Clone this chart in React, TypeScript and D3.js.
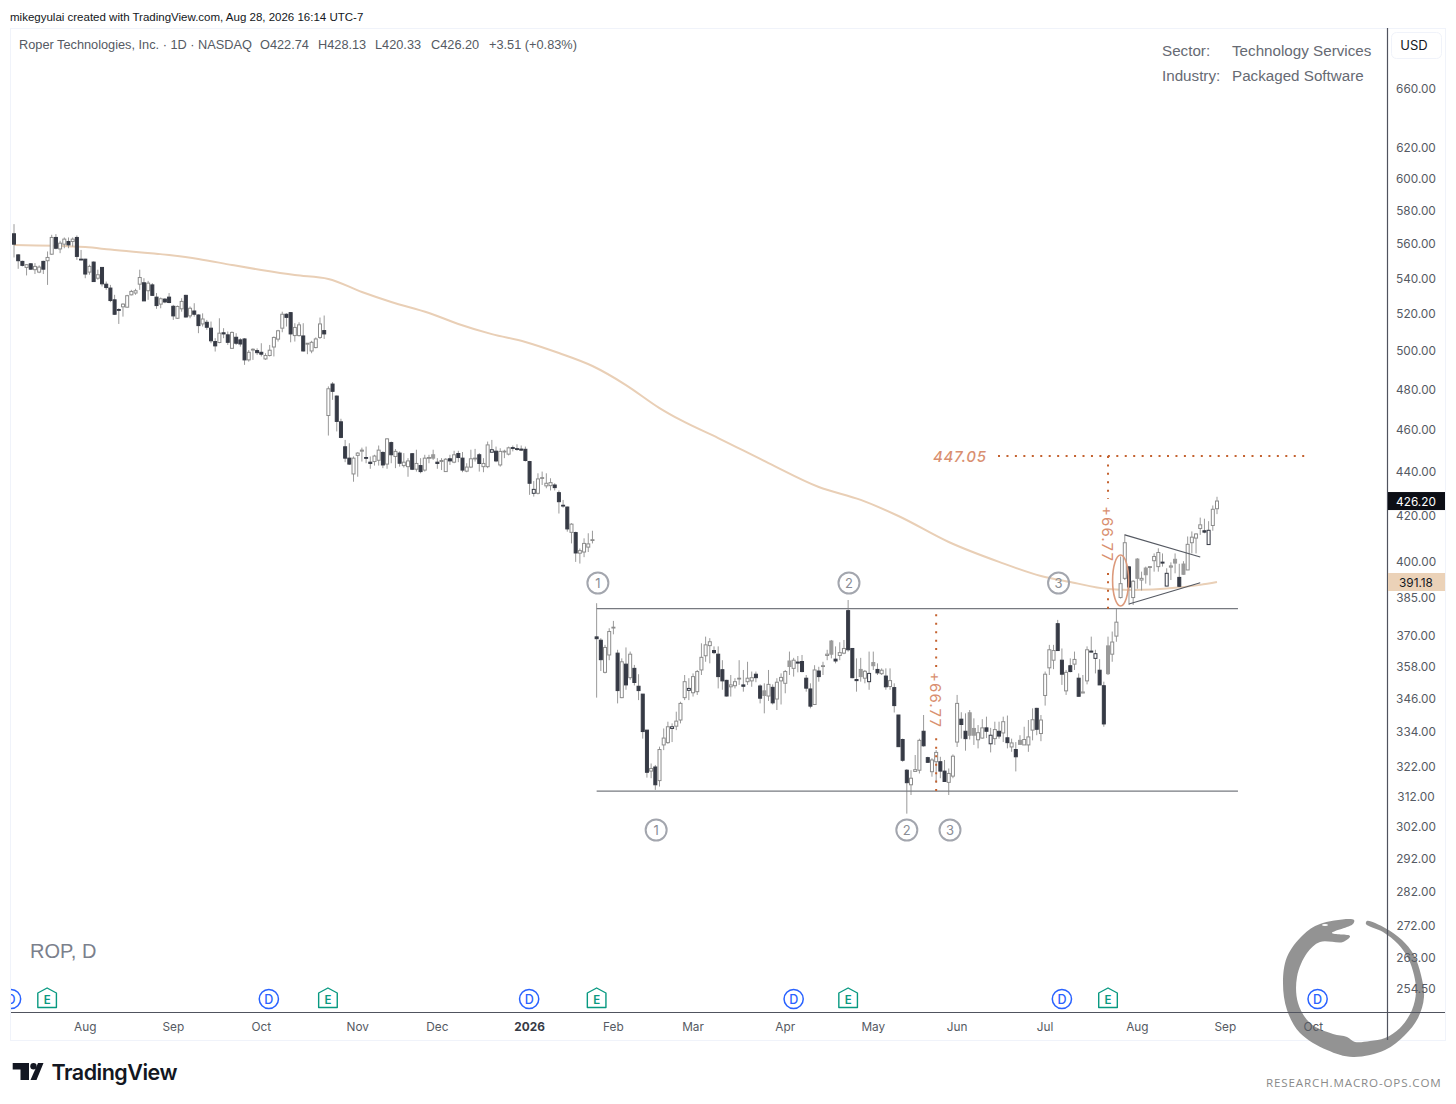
import * as d3 from "d3";

const highs = [
  571.4,553.5,549.7,547.7,548.3,548.3,547,549.7,555.1,565,
  565.4,561.4,563.4,563.4,563.4,564.6,556,550.8,547.4,549.3,
  544.5,546,537.7,535.8,530.2,522.7,525.5,530.2,533,533.6,
  544.5,539.6,538.1,536.8,531.2,528.7,528.3,531.2,524.6,524.2,
  528.3,530.2,523.7,525.5,519.4,519.9,516.3,515.4,506.4,517.2,
  511.8,510,510,509.1,506.4,506.4,500.1,501,501,503.7,
  498.4,502.8,507.3,510.9,520.8,519.9,520.5,514.5,515,514.5,
  503.7,505,506.8,517.6,518.7,
  481.2,483.4,476.6,465,454.7,453.1,446.8,448.8,451,451.5,
  446.8,447.6,452,449.2,455.5,453.9,450.3,449.2,448.4,446,
  448.4,450,446,447.6,447.6,450,446,446,446,447.6,
  449.5,449.5,448.9,443.6,450,450.4,448.4,446,453.9,454.7,
  451.5,450.7,450,451.5,452,452.6,452,451.5,444.7,435.3,
  438.9,439.7,438.9,436.6,434.3,431,426.7,423.7,416.3,412.6,
  405.3,409.7,411.9,413,
  382.5,368.6,366,372.5,375.4,364.1,360.8,365,363.4,358.3,
  354.8,347.4,334.4,322.8,322.3,328.6,335,337.4,336.8,341,
  344.6,354.5,353.3,355.1,356.4,366.6,369.2,368.6,365.4,365.4,
  360.1,352.7,354.5,353.3,360.1,356.4,359.5,355.8,355.8,351,
  351.4,356.4,351,353.3,355.1,356.4,363.4,361,361.7,362.1,
  354.5,351.4,358.2,357.6,359.5,364.1,367.9,365.4,367,367.9,
  383.8,364.6,360.8,361,356.4,363.4,363.4,358.9,357,357,
  357,351.4,339.8,331.4,320.9,320.5,325.7,331.4,339.8,325.1,
  324.6,327.4,325.1,324,321.1,325.9,347.1,340.8,340.4,341.6,
  338.6,336.2,338.3,339.2,335.2,337.4,337.4,339.2,339.6,331.4,
  330.2,332.6,335.6,338,342.2,342.4,339.8,355.8,366,366,
  375.8,364.6,356.4,360.8,363.4,355.1,354.5,365.4,369.2,364.1,
  360.5,352,369.2,371.2,380.4,401.9,411.5,397.9,392,401.2,
  395.5,397.6,397.6,403.2,405.4,403.2,396.9,399.4,403.2,398.8,
  399.9,410.5,412.7,411.9,418.8,418.3,417.2,424.2,428.13,
];

const lows = [
  551.6,545,546.4,541.2,544.5,542,542.5,542,535.8,553.1,
  556.4,554.1,557,557,558,550.2,549.9,539.6,541.6,537.7,
  538.7,534.9,533,526.1,519,514.1,518.1,523.1,529.9,530.2,
  533,526.8,527.4,529.7,522.4,522.7,525.5,525.5,516.3,516.8,
  520.8,517.6,517.2,518.1,509.1,512.7,510.9,503.7,499.3,503.7,
  506.4,502.8,500.7,502.8,501.9,492.3,494,494.9,497.5,496.7,
  494.9,496.7,496.7,504.6,509.6,512.7,504.2,504.6,507.3,499.3,
  497.9,498.4,501,506,506,
  456.8,474.4,458.8,455.5,444.1,442.8,435,437.3,444.4,443.6,
  441,442.5,442.5,441.3,441,443.6,441.3,442,441.6,437.3,
  440.4,439.7,438.9,439.7,443.6,445.2,441,440.4,439.7,442.8,
  443.6,444.1,439.4,439.4,441.3,444.4,439.7,439.4,441.3,448.8,
  444.1,442,446,447.3,449.2,449.5,449.5,444.4,429,428.2,
  429.2,433.5,432,431,431,420.6,423.2,412.6,407.5,399.6,
  398.9,401.6,403.8,407.5,
  346.1,356,355.1,360.1,370.1,344,345.9,349,352.7,350.6,
  345.2,331.4,318,317.8,313.9,315,327.4,329.6,330.2,334.4,
  336.8,345.2,345.2,346.5,347.1,354.5,359.5,358.9,362.4,349.5,
  349,346.5,346.5,349.5,350.8,348.3,350.8,350.1,351.8,344,
  340.4,344.9,343.6,341.6,343.6,347.7,354.5,353.9,355.5,355.5,
  348.3,342.2,343.4,352,354.5,360.1,360.8,358.9,360.1,362.4,
  363.4,353.3,348.3,352,351.4,349,356.4,354.5,354.5,349,
  349,340.7,328.6,323.4,306.1,312.2,320,319.4,328.6,323,
  318.3,316.2,317.8,316.7,312.2,317.8,328.5,331.4,327.2,331.1,
  329.2,328,331.4,331.6,326.6,329.2,331.4,330.2,328,326.8,
  320.1,329.2,329.2,326.8,330.8,332.6,330.5,343.2,354.5,356.7,
  363.7,350.8,347.1,355.5,356.4,346.5,347.7,351,363.2,355.1,
  350.8,335.6,354.5,359.5,367.2,384.4,392,381.8,381.8,388.4,
  387.7,390.5,389.8,395.5,395.5,397.6,389.4,392,394.8,389.1,
  394.1,396.2,403.2,403.2,411.2,411.9,407,413,420.33,
];

const opens = [
  565.6,553.1,549.3,545.8,547.9,544.5,543.1,549.3,549.7,553.5,
  563.4,556.6,559.4,561,561,563.4,550.6,550.6,543.1,548.9,
  539.6,545.8,536.2,534,527.4,522,523.5,523.3,530.2,531.2,
  536.2,537,532.5,535.8,528.9,525,527.8,528.9,523.8,517.2,
  522.4,529.9,518.5,521.2,519,514.1,515,511.8,504.6,504.1,
  509.3,508.2,501,506.9,505.5,506,494.9,500.1,499.8,498.9,
  495.4,497.2,501.7,505.9,511.8,519.4,520.3,507.8,507.8,507.6,
  503.2,499.6,501.4,506.8,510.5,
  466.6,482.4,476.3,463.5,451.4,446,438.6,447.3,449.3,446.3,
  444.1,444.4,445,448.7,443.2,453.4,446.8,448.4,442.5,442,
  448.1,440.8,442.5,440.4,446,446,444.1,444.4,439.7,445.7,
  444.1,448.2,446,439.9,441.8,445.7,447.6,442,442,448.8,
  449.3,442.8,449,447.9,451,450.5,450.3,450.2,444.4,429.7,
  429.7,436.6,433.1,433.2,433.5,430,424.3,423.5,412.3,412.2,
  403.3,403.8,405.9,408.8,
  369.1,367.8,355.5,362.1,372.6,362.8,346.1,358.6,353.5,357,
  350.3,347.4,334.4,320.2,321.6,317,329.2,330,335,335.8,
  338,346.1,348.8,347.9,348.3,356.4,361.8,365.7,363.8,362.4,
  356.5,352.5,350.1,350.5,353,350.8,352,352.3,354.8,350.4,
  346.9,346.7,349.9,345.6,352.3,351.4,357.7,357,359.4,359.6,
  353.3,349.3,343.6,356,357.8,361.9,362.4,360.5,361.9,362.8,
  379.5,364.6,352.8,353.9,353.3,352,358,356.6,355,354.1,
  350.2,349.8,339.8,331.1,320.5,315.6,320.1,320.5,334,324.8,
  320,323.4,323.4,320.2,316.4,318.5,330.2,338.3,334,332.6,
  332.6,331,331.6,335.2,329.6,331.4,334,333.4,331.7,328.5,
  327.6,329.4,329.2,329.2,334.4,342.2,333.2,346.9,357.2,360.1,
  374.3,360.1,348.6,358,358.6,353.3,347.8,352.3,363.6,360.8,
  356.3,350.5,355,362.4,369.4,384.8,392.7,397.5,384.8,392.7,
  392,394.2,397.4,400.1,397.6,399.5,389.5,397.4,399.1,393.1,
  394.4,396.2,407.8,409.8,414,413,407,415.3,422.74,
];

const closes = [
  559.4,549.7,547,547.4,544.8,546.4,546,544.8,551.6,563.4,
  557,560,562.4,559,562.4,552.2,550.2,542,546.4,537.7,
  541.6,536.4,534.3,527,519.4,521.6,525,529.7,532.1,532.5,
  540,526.8,536.8,529.9,524.2,528,526.2,525.9,518.5,523.7,
  526.5,517.9,522.7,519.4,513.2,516.8,512.3,505,502.3,509.1,
  508.7,504.2,509.5,503.7,503.3,494.9,498.9,500.5,498.7,497.9,
  497.2,500,506.8,510.4,519.4,517.7,508.7,512.2,513.6,499.6,
  503.7,504.2,506,514.1,508.7,
  480,478.7,463.7,455.9,446,443.2,446,448.4,449.8,446,
  443.5,447,449.8,442.8,455.2,447.6,449.2,443.6,444.1,444.7,
  440.8,443.5,439.7,446,446.3,447.6,443.5,444.9,445.5,444.7,
  447.6,446.3,440.4,441.8,445.7,446,443.5,443.5,452.3,450,
  444.7,449.2,449.3,450.9,450.7,450.2,449.8,444.9,434.3,431.5,
  436.3,436.9,434.3,434.6,432.3,425.9,424,413.8,415.9,403.4,
  404.4,407.5,407.3,409.1,
  368.4,360.3,365,371.2,372.9,348.7,359.5,350.8,362.4,351.7,
  348.7,333.9,319.8,321.1,315.6,327.6,331.6,335.6,335.6,337.6,
  344,352,349.5,353.9,355.8,361.2,366,367.2,363,353.9,
  352.3,346.7,350.8,352,353.3,350.3,353.3,353.5,353.5,345.9,
  348.6,351,344.2,351.8,353.6,355.8,359.8,360.1,359,355.8,
  349.6,343,356.4,353.9,358,362.4,367.5,359.8,363,364.6,
  364.1,353.5,352.4,356.6,355.9,355.1,359.2,355.3,356.3,350.1,
  352.4,343.2,328.6,323.9,316.3,317.8,320.7,330.8,328.9,323.2,
  324,326.6,320.2,316.7,319.4,325.3,344,336.4,331.4,340.6,
  335,333.5,335.2,334,332.6,334.6,332.3,337.4,330,329.9,
  325.1,330.8,331.1,332,338.1,334.7,338,354.8,364.1,363.8,
  363.8,354.8,355.5,355.8,360.4,346.6,348.2,364.1,363.2,362.6,
  350.8,336.6,365.6,367.1,374.9,390.5,407.8,389.1,391.5,400.8,
  392.7,397,397.6,401.9,403.6,399.1,394.8,397.9,400.7,389.4,
  398.7,407.1,410.2,411.6,415.6,412.4,413.2,422.5,426.2,
];

// bars that read as solid grey or as a dark outline in the picture
const greyBars = [100, 179, 185, 195, 202, 205, 228, 229, 240, 255, 261, 268, 270, 277, 279];
const outlinedBars = [114, 124, 157, 161, 204, 233, 258, 275, 285];

const maBars = [0, 17, 23, 37, 44, 52, 59, 67, 75, 83, 90, 99, 106, 114, 122, 130, 138, 146, 154, 159, 168, 180, 192, 202, 211, 223, 235, 245, 252, 261, 267, 277, 283, 287];
const maValues = [558.9, 557.7, 556.2, 553, 550.7, 547.2, 544.3, 541.4, 539.2, 531.8, 526.2, 520.1, 514.1, 508.6, 504.4, 498.5, 491.7, 481.9, 470.3, 464.4, 455.6, 443.7, 432.6, 426.7, 419.5, 408.1, 399.6, 393.7, 391.2, 388.3, 387.9, 388.8, 390, 391.18];

const priceTicks = [660, 620, 600, 580, 560, 540, 520, 500, 480, 460, 440, 420, 400, 385, 370, 358, 346, 334, 322, 312, 302, 292, 282, 272, 263, 254.5];
const monthLabels = ["Aug", "Sep", "Oct", "Nov", "Dec", "2026", "Feb", "Mar", "Apr", "May", "Jun", "Jul", "Aug", "Sep", "Oct"];
const monthBars = [17, 38, 59, 82, 101, 123, 143, 162, 184, 205, 225, 246, 268, 289, 310];
const dividendBars = [-0.7, 60.8, 122.9, 186, 250, 311];
const earningsBars = [7.9, 74.9, 139, 199, 261];

const rangeTop = 380.28;
const rangeBottom = 313.51;
const target = 447.05;
const topPivots = [
  { label: "1", bar: 139.3 },
  { label: "2", bar: 199.2 },
  { label: "3", bar: 249.2 },
];
const bottomPivots = [
  { label: "1", bar: 153.2 },
  { label: "2", bar: 213 },
  { label: "3", bar: 223.3 },
];

const x = d3.scaleLinear().domain([0, 287]).range([14, 1217]);
const y = d3.scaleLog().domain([254.5, 660]).range([988, 88]);

const sans = "'Liberation Sans', Arial, sans-serif";
const inter = "Inter, sans-serif";
const orange = "#c4622f";
const orangeText = "#d98f70";
const tickColor = "#555a63";

const maLine = d3
  .line<number>()
  .x((_, i) => x(maBars[i]))
  .y((d) => y(d))
  .curve(d3.curveMonotoneX);

const brush = d3
  .line<[number, number]>()
  .curve(d3.curveCatmullRomClosed.alpha(0.5));

// ouroboros watermark outline, traced round the ring from the snake's head
const ringOutline: [number, number][] = [
  [1354, 920], [1320, 924], [1303, 935], [1287, 957], [1283, 983], [1287, 1010], [1300, 1033],
  [1327, 1050], [1353, 1057], [1385, 1050], [1405, 1035], [1418, 1018], [1424, 997], [1421, 975],
  [1414, 955], [1402, 940], [1385, 928], [1367, 921], [1366, 924], [1383, 932], [1398, 944],
  [1408, 958], [1414, 975], [1416, 992], [1412, 1010], [1400, 1028], [1385, 1038], [1370, 1041],
  [1355, 1042], [1347, 1037], [1333, 1034], [1310, 1023], [1298, 1003], [1297, 977], [1307, 953],
  [1320, 942], [1343, 942], [1350, 936], [1332, 933], [1353, 924],
];

function Candles() {
  return (
    <g>
      {closes.map((close, i) => {
        const open = opens[i];
        const cx = x(i);
        const top = y(Math.max(open, close));
        const bottom = y(Math.min(open, close));
        const isGrey = greyBars.includes(i);
        const isOutlined = outlinedBars.includes(i);
        const isDown = close < open;
        const fill = isDown ? "#363a45" : isGrey ? "#9a9a9a" : "#ffffff";
        const stroke = isDown ? "#363a45" : isGrey ? "#9a9a9a" : isOutlined ? "#363a45" : "#8c8c8c";
        return (
          <g key={i}>
            <line x1={cx} x2={cx} y1={y(highs[i])} y2={y(lows[i])} stroke="#9a9a9a" strokeWidth={1} />
            <rect
              x={cx - 1.5}
              y={top}
              width={3}
              height={Math.max(bottom - top, 0.8)}
              fill={fill}
              stroke={stroke}
              strokeWidth={1}
            />
          </g>
        );
      })}
    </g>
  );
}

function Dotted({ x1, x2, y1, y2 }: { x1: number; x2: number; y1: number; y2: number }) {
  return (
    <line x1={x1} x2={x2} y1={y1} y2={y2} stroke={orange} strokeWidth={2} strokeDasharray="2 6.45" />
  );
}

function Pivot({ label, bar, cy }: { label: string; bar: number; cy: number }) {
  return (
    <g>
      <circle cx={x(bar)} cy={cy} r={10.5} fill="none" stroke="#a3a6ae" strokeWidth={2} />
      <text x={x(bar)} y={cy + 4.5} textAnchor="middle" fontSize={13} fontFamily={inter} fill="#8a8d95">
        {label}
      </text>
    </g>
  );
}

function RotatedValue({ cx, cy }: { cx: number; cy: number }) {
  return (
    <text
      transform={`translate(${cx},${cy}) rotate(90)`}
      textAnchor="middle"
      dy={5}
      fontSize={15}
      letterSpacing={1.1}
      fontFamily={inter}
      fill={orangeText}
    >
      +66.77
    </text>
  );
}

export default function App() {
  const xDotA = x(220);
  const xDotB = x(261);
  return (
    <svg
      width={1456}
      height={1104}
      viewBox="0 0 1456 1104"
      style={{ position: "absolute", left: 0, top: 0, background: "#fff" }}
    >
      <defs>
        <clipPath id="pane">
          <rect x={11} y={28} width={1376} height={985} />
        </clipPath>
      </defs>

      <text x={10} y={21} fontSize={11.5} fontFamily={sans} fill="#131722">
        mikegyulai created with TradingView.com, Aug 28, 2026 16:14 UTC-7
      </text>

      <rect x={10.5} y={28.5} width={1435} height={1012} fill="none" stroke="#f0f3fa" />

      <path d={brush(ringOutline) ?? ""} fill="#8d8d8d" fillOpacity={0.95} />
      <path
        d="M1413,977 C1414,1000 1404,1025 1381,1038"
        fill="none"
        stroke="#fff"
        strokeWidth={1}
      />
      <ellipse cx={1325} cy={925} rx={3} ry={1} fill="#fff" />

      <line x1={11} x2={1445} y1={1012.5} y2={1012.5} stroke="#50535e" strokeWidth={1.2} />
      <line x1={1387.5} x2={1387.5} y1={28} y2={1040} stroke="#50535e" strokeWidth={1.2} />

      <text x={19} y={49} fontSize={12.75} fontFamily={sans} fill="#555a63">
        Roper Technologies, Inc. · 1D · NASDAQ
      </text>
      {[
        ["O422.74", 260],
        ["H428.13", 318],
        ["L420.33", 375],
        ["C426.20", 431],
        ["+3.51 (+0.83%)", 489],
      ].map(([label, left]) => (
        <text key={label} x={left} y={49} fontSize={12.75} fontFamily={sans} fill="#555a63">
          {label}
        </text>
      ))}

      <g fontSize={15.2} fontFamily={sans} fill="#666a73">
        <text x={1162} y={56}>Sector:</text>
        <text x={1232} y={56}>Technology Services</text>
        <text x={1162} y={81}>Industry:</text>
        <text x={1232} y={81}>Packaged Software</text>
      </g>

      <g clipPath="url(#pane)">
        <path d={maLine(maValues) ?? ""} fill="none" stroke="#e9cfb6" strokeWidth={2} />
        <Candles />

        <line x1={x(139)} x2={x(292)} y1={y(rangeTop)} y2={y(rangeTop)} stroke="#777a80" strokeWidth={1.3} />
        <line x1={x(139)} x2={x(292)} y1={y(rangeBottom)} y2={y(rangeBottom)} stroke="#777a80" strokeWidth={1.3} />

        <line x1={x(265)} x2={x(283)} y1={y(411.2)} y2={y(401.7)} stroke="#555962" strokeWidth={1.1} />
        <line x1={x(266)} x2={x(283)} y1={y(382.2)} y2={y(390.9)} stroke="#555962" strokeWidth={1.1} />

        <ellipse cx={x(264)} cy={y(391.8)} rx={8} ry={25.5} fill="none" stroke="#dc9a7c" strokeWidth={1.6} />

        <Dotted x1={xDotA} x2={xDotA} y1={y(rangeBottom)} y2={732} />
        <Dotted x1={xDotA} x2={xDotA} y1={667} y2={y(rangeTop) + 5} />
        <RotatedValue cx={xDotA - 1} cy={700} />

        <Dotted x1={xDotB} x2={xDotB} y1={y(rangeTop)} y2={572} />
        <Dotted x1={xDotB} x2={xDotB} y1={y(target)} y2={499} />
        <RotatedValue cx={xDotB - 1} cy={534} />

        <Dotted x1={998} x2={1310} y1={y(target)} y2={y(target)} />
        <text
          x={933}
          y={462}
          fontSize={15}
          fontWeight={500}
          fontStyle="italic"
          letterSpacing={0.7}
          fontFamily={inter}
          fill={orangeText}
        >
          447.05
        </text>

        {topPivots.map((d) => (
          <Pivot key={`t${d.label}`} label={d.label} bar={d.bar} cy={583} />
        ))}
        {bottomPivots.map((d) => (
          <Pivot key={`b${d.label}`} label={d.label} bar={d.bar} cy={830} />
        ))}

        <text x={30} y={958} fontSize={20} fontFamily={sans} fill="#7b808c">
          ROP, D
        </text>

        {dividendBars.map((bar) => (
          <g key={bar}>
            <circle cx={x(bar)} cy={999} r={9.6} fill="#fff" stroke="#2962ff" strokeWidth={1.5} />
            <text x={x(bar)} y={1003.5} textAnchor="middle" fontSize={12.5} fontFamily={inter} fontWeight={500} fill="#2962ff">
              D
            </text>
          </g>
        ))}
        {earningsBars.map((bar) => (
          <g key={bar} transform={`translate(${x(bar)},0)`}>
            <path
              d="M-9.3,993 L0,988 L9.3,993 L9.3,1007.5 L-9.3,1007.5 Z"
              fill="#fff"
              stroke="#089981"
              strokeWidth={1.4}
              strokeLinejoin="round"
            />
            <text y={1003.5} textAnchor="middle" fontSize={11.5} fontFamily={inter} fontWeight={600} fill="#089981">
              E
            </text>
          </g>
        ))}
      </g>

      <g fontSize={11.8} fontFamily={inter} fill={tickColor} textAnchor="middle">
        {priceTicks.map((tick) => (
          <text key={tick} x={1416} y={y(tick) + 5}>
            {tick.toFixed(2)}
          </text>
        ))}
        {monthLabels.map((label, i) => (
          <text
            key={`${label}${i}`}
            x={x(monthBars[i])}
            y={1030.5}
            fontWeight={label === "2026" ? 700 : 400}
            fill={label === "2026" ? "#363a45" : tickColor}
          >
            {label}
          </text>
        ))}
      </g>

      <rect x={1391.5} y={32.5} width={50} height={26} rx={5} fill="#fff" stroke="#f0f3fa" />
      <text x={1414} y={50} textAnchor="middle" fontSize={13} fontFamily={inter} fill="#131722">
        USD
      </text>

      <rect x={1388} y={y(426.2) - 9} width={57} height={18} fill="#0c0e15" />
      <text x={1416} y={y(426.2) + 5} textAnchor="middle" fontSize={11.8} fontFamily={inter} fill="#fff">
        426.20
      </text>
      <rect x={1388} y={y(391.18) - 9} width={57} height={18} fill="#ebd2b8" />
      <text x={1416} y={y(391.18) + 5} textAnchor="middle" fontSize={11.8} fontFamily={inter} fill="#131722">
        391.18
      </text>

      <g fill="#131722">
        <path d="M12.7,1063 H29 V1080 H20.5 V1069.5 H12.7 Z" />
        <circle cx={33.5} cy={1066.2} r={3.2} />
        <path d="M38,1063 H43.5 L36.5,1080 H30.5 Z" />
      </g>
      <text x={51.5} y={1080} fontSize={21.5} fontWeight={600} letterSpacing={-0.5} fontFamily={inter} fill="#131722">
        TradingView
      </text>

      <text x={1266} y={1087} fontSize={11.6} letterSpacing={0.85} fontFamily="'Open Sans', sans-serif" fill="#8a8a8a">
        RESEARCH.MACRO-OPS.COM
      </text>
    </svg>
  );
}
